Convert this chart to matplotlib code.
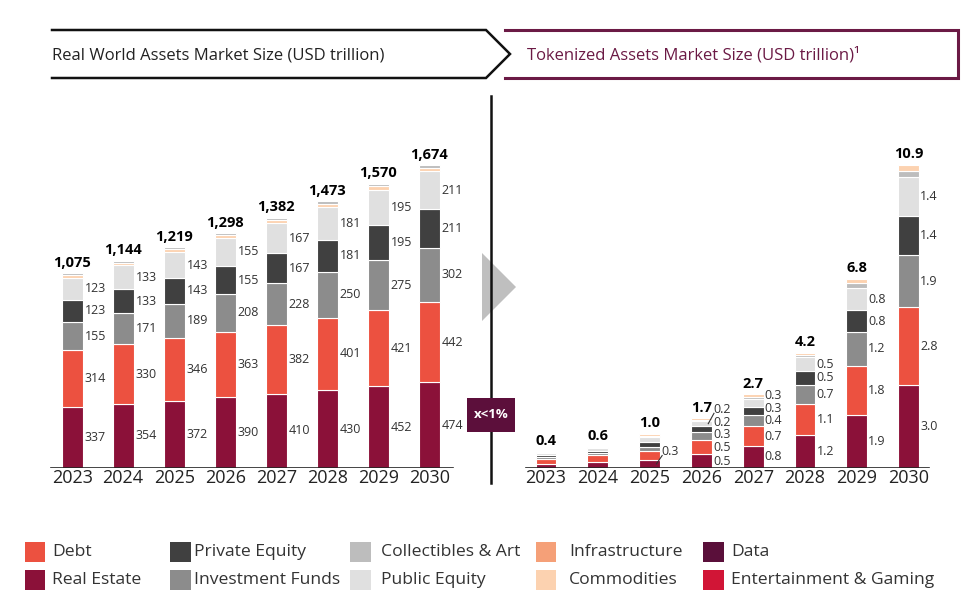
import matplotlib
matplotlib.use('Agg')
import matplotlib.pyplot as plt
from matplotlib.patches import Polygon, Rectangle

plt.rcParams['font.family'] = ['Open Sans', 'DejaVu Sans']

years = ['2023', '2024', '2025', '2026', '2027', '2028', '2029', '2030']

# Real world assets market size (USD trillion)
rwa_real_estate = [337, 354, 372, 390, 410, 430, 452, 474]
rwa_debt = [314, 330, 346, 363, 382, 401, 421, 442]
rwa_funds = [155, 171, 189, 208, 228, 250, 275, 302]
rwa_private_eq = [123, 133, 143, 155, 167, 181, 195, 211]
rwa_public_eq = [123, 133, 143, 155, 167, 181, 195, 211]
rwa_commodities = [14, 14, 15, 16, 16, 17, 18, 19]
rwa_collectibles = [9, 9, 11, 11, 12, 13, 14, 15]
rwa_total = [1075, 1144, 1219, 1298, 1382, 1473, 1570, 1674]

# Tokenized assets market size (USD trillion)
tok_real_estate = [0.15, 0.23, 0.3, 0.5, 0.8, 1.2, 1.9, 3.0]
tok_debt = [0.17, 0.23, 0.3, 0.5, 0.7, 1.1, 1.8, 2.8]
tok_funds = [0.07, 0.09, 0.17, 0.3, 0.4, 0.7, 1.2, 1.9]
tok_private_eq = [0.07, 0.08, 0.17, 0.2, 0.3, 0.5, 0.8, 1.4]
tok_public_eq = [0.07, 0.08, 0.17, 0.2, 0.3, 0.5, 0.8, 1.4]
tok_collectibles = [0.05, 0.05, 0.06, 0.05, 0.08, 0.08, 0.18, 0.22]
tok_commodities = [0.0, 0.0, 0.06, 0.05, 0.08, 0.08, 0.16, 0.22]
tok_total = [0.4, 0.6, 1.0, 1.7, 2.7, 4.2, 6.8, 10.9]
tok_n_labelled = [0, 0, 1, 5, 5, 5, 5, 5]   # segments with a value label, from the bottom

colors = {
    'Debt': '#EC5140',
    'Real Estate': '#8B1139',
    'Private Equity': '#404040',
    'Investment Funds': '#8C8C8C',
    'Collectibles & Art': '#BDBDBD',
    'Public Equity': '#E0E0E0',
    'Infrastructure': '#F5A078',
    'Commodities': '#FCD2B0',
    'Data': '#5A0F3A',
    'Entertainment & Gaming': '#D11536',
}
legend_order = ['Debt', 'Real Estate', 'Private Equity', 'Investment Funds',
                'Collectibles & Art', 'Public Equity', 'Infrastructure',
                'Commodities', 'Data', 'Entertainment & Gaming']

txt_col = '#333333'
purple = '#6B1A45'

fig = plt.figure(figsize=(9.77, 6.12), dpi=100)
W, H = 977, 612

# background axes in pixel coords for the frame decorations
bg = fig.add_axes([0, 0, 1, 1])
bg.set_xlim(0, W)
bg.set_ylim(H, 0)
bg.axis('off')


def px_axes(x0, x1, y0, y1):
    return fig.add_axes([x0 / W, 1 - y1 / H, (x1 - x0) / W, (y1 - y0) / H])


def stack(ax, layers, width):
    x = list(range(len(years)))
    bottom = [0.0] * len(years)
    spans = []
    for vals, col in layers:
        ax.bar(x, vals, width, bottom=bottom, color=col, edgecolor='white', linewidth=0.8, zorder=2)
        spans.append(list(zip(bottom, vals)))
        bottom = [b + v for b, v in zip(bottom, vals)]
    return spans, bottom


def style_axes(ax, xlim, ylim, line_span):
    ax.set_xlim(*xlim)
    ax.set_ylim(*ylim)
    ax.patch.set_alpha(0)
    for s in ax.spines.values():
        s.set_visible(False)
    ax.set_yticks([])
    ax.set_xticks(range(len(years)))
    ax.set_xticklabels(years, fontsize=13, color='#222222')
    ax.tick_params(axis='x', length=0, pad=1)
    ax.axhline(0, line_span[0], line_span[1], color='#222222', lw=1.9, zorder=3)


# ---------------- left: real world assets ----------------
axL = px_axes(40, 465, 130, 468)
wL = 0.41
spansL, topL = stack(axL, [
    (rwa_real_estate, colors['Real Estate']),
    (rwa_debt, colors['Debt']),
    (rwa_funds, colors['Investment Funds']),
    (rwa_private_eq, colors['Private Equity']),
    (rwa_public_eq, colors['Public Equity']),
    (rwa_commodities, colors['Commodities']),
    (rwa_collectibles, colors['Collectibles & Art']),
], wL)
style_axes(axL, (-0.631, 7.702), (0, 338 / 0.181), (0.026, 0.969))

for k in range(5):
    for i, (b, v) in enumerate(spansL[k]):
        axL.annotate(f'{v:g}', (i + wL / 2, b + v / 2), xytext=(1.5, 0), textcoords='offset points',
                     ha='left', va='center', fontsize=9, color=txt_col)
for i, t in enumerate(rwa_total):
    axL.annotate(f'{t:,}', (i, topL[i]), xytext=(0, 2.5), textcoords='offset points',
                 ha='center', va='bottom', fontsize=10.5, fontweight='bold', color='black')

# ---------------- right: tokenized assets ----------------
axR = px_axes(520, 945, 130, 468)
wR = 0.405
spansR, topR = stack(axR, [
    (tok_real_estate, colors['Real Estate']),
    (tok_debt, colors['Debt']),
    (tok_funds, colors['Investment Funds']),
    (tok_private_eq, colors['Private Equity']),
    (tok_public_eq, colors['Public Equity']),
    (tok_collectibles, colors['Collectibles & Art']),
    (tok_commodities, colors['Commodities']),
], wR)
scaleR = 27.7
style_axes(axR, (-0.502, 7.703), (0, 338 / scaleR), (0.014, 0.96))

min_gap = 12.5 / scaleR
lift = {2: 0.43}   # label of the thin 2025 segment sits above the bar foot
for i, n in enumerate(tok_n_labelled):
    prev = None
    for k in range(n):
        b, v = spansR[k][i]
        yc = b + v / 2
        yl = yc + lift.get(i, 0)
        if prev is not None and yl < prev + min_gap:
            yl = prev + min_gap
        prev = yl
        xl = i + wR / 2 + 0.02
        axR.text(xl, yl, f'{v:.1f}', ha='left', va='center', fontsize=9, color=txt_col)
        if yl - yc > 0.33:
            axR.plot([i + wR / 2 - 0.07, xl + 0.02], [yc, yl - 0.13], color=txt_col, lw=0.8, zorder=4)
for i, t in enumerate(tok_total):
    axR.annotate(f'{t:.1f}', (i, topR[i]), xytext=(0, 2.5), textcoords='offset points',
                 ha='center', va='bottom', fontsize=10.5, fontweight='bold', color='black')

# ---------------- headers ----------------
bg.plot([52, 486, 510, 486, 52], [30, 30, 54, 78, 78], color='#111111', lw=1.8, solid_joinstyle='miter')
bg.plot([505, 958, 958, 505], [30, 30, 78, 78], color=purple, lw=2.2, solid_joinstyle='miter')
bg.text(52, 55, 'Real World Assets Market Size (USD trillion)', fontsize=12, color='#222222',
        ha='left', va='center')
bg.text(527, 55, 'Tokenized Assets Market Size (USD trillion)\u00b9', fontsize=12, color=purple,
        ha='left', va='center')

# divider, arrow and share box
bg.plot([490.5, 490.5], [96, 483], color='#111111', lw=1.8)
bg.add_patch(Polygon([(482, 253), (516, 287), (482, 321)], closed=True, color='#BFBFBF', lw=0))
bg.add_patch(Rectangle((467, 398), 48, 34, color='#5C0F3B', lw=0, zorder=5))
bg.text(491, 415, 'x<1%', color='white', fontsize=9.5, fontweight='bold', ha='center', va='center', zorder=6)

# ---------------- legend ----------------
col_sq = [24.5, 170, 350, 535.5, 703]
col_txt = [52, 194.5, 381, 569, 731]
row_y = [551.5, 579.5]
for j, name in enumerate(legend_order):
    c, r = j // 2, j % 2
    bg.add_patch(Rectangle((col_sq[c], row_y[r] - 10), 20.5, 20.5, color=colors[name], lw=0))
    bg.text(col_txt[c], row_y[r], name, fontsize=12.6, color=txt_col, ha='left', va='center')

fig.savefig('out.png', dpi=100)
